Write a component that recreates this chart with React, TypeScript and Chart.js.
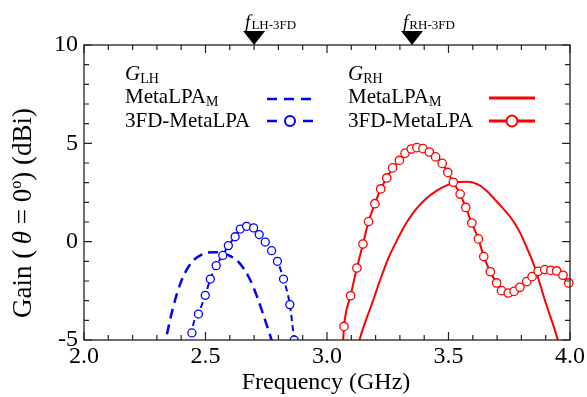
import React, { useEffect, useRef } from "react";
import { Chart, registerables } from "chart.js";
Chart.register(...registerables);

// ---- data ----
const xTickLabels = ["2.0", "2.5", "3.0", "3.5", "4.0"];
const yTickLabels = ["-5", "0", "5", "10"];

// G_LH, MetaLPA_M (blue dashed)
const lhMetaFreq = [2.327, 2.336, 2.366, 2.400, 2.441, 2.489, 2.537, 2.585, 2.639, 2.680, 2.714, 2.746, 2.772, 2.785];
const lhMetaGain = [-5.5, -5.0, -3.37, -2.02, -1.08, -0.63, -0.54, -0.63, -1.08, -1.85, -2.86, -4.02, -5.0, -5.5];

// G_LH, 3FD-MetaLPA (blue dashed with circles)
const lh3fdFreq = [2.440, 2.444, 2.471, 2.499, 2.520, 2.544, 2.571, 2.594, 2.622, 2.643, 2.669, 2.698, 2.721, 2.746, 2.772, 2.796, 2.821, 2.847, 2.865, 2.868];
const lh3fdGain = [-5.3, -4.64, -3.68, -2.73, -1.90, -1.22, -0.70, -0.20, 0.25, 0.64, 0.78, 0.70, 0.36, -0.02, -0.46, -1.00, -1.90, -3.20, -5.0, -5.3];

// G_RH, MetaLPA_M (red solid)
const rhMetaFreq = [3.128, 3.134, 3.160, 3.186, 3.220, 3.254, 3.290, 3.322, 3.360, 3.404, 3.450, 3.500, 3.541, 3.580, 3.623, 3.660, 3.691, 3.725, 3.759, 3.790, 3.814, 3.855, 3.896, 3.937, 3.955];
const rhMetaGain = [-5.4, -5.0, -4.0, -3.12, -1.90, -0.80, 0.12, 0.86, 1.55, 2.14, 2.58, 2.90, 3.03, 3.05, 2.90, 2.55, 2.14, 1.68, 1.18, 0.56, -0.07, -1.30, -2.95, -4.47, -5.2];

// G_RH, 3FD-MetaLPA (red solid with circles)
const rh3fdFreq = [3.065, 3.070, 3.097, 3.123, 3.148, 3.171, 3.197, 3.221, 3.246, 3.270, 3.298, 3.321, 3.347, 3.370, 3.395, 3.421, 3.447, 3.474, 3.497, 3.520, 3.548, 3.571, 3.596, 3.623, 3.645, 3.672, 3.698, 3.718, 3.746, 3.770, 3.794, 3.822, 3.844, 3.869, 3.896, 3.921, 3.945, 3.971, 3.995];
const rh3fdGain = [-5.3, -4.31, -2.75, -1.34, -0.12, 1.02, 1.93, 2.68, 3.24, 3.75, 4.13, 4.49, 4.71, 4.78, 4.73, 4.56, 4.31, 3.98, 3.52, 3.02, 2.42, 1.74, 0.95, 0.14, -0.76, -1.53, -2.10, -2.49, -2.61, -2.53, -2.32, -2.03, -1.78, -1.51, -1.42, -1.46, -1.49, -1.71, -2.10];

// frequency markers at the top
const markerFreqs = [2.7, 3.35];
const markerSubs = ["LH-3FD", "RH-3FD"];

const SERIF = "'Liberation Serif', 'Times New Roman', serif";
const BLUE = "#0000ff";
const RED = "#ff0000";

const pts = (xs: number[], ys: number[]) => xs.map((x, i) => ({ x, y: ys[i] }));

const overlay = {
  id: "overlay",
  afterDraw(chart: any) {
    const ctx: CanvasRenderingContext2D = chart.ctx;
    const a = chart.chartArea;
    const xs = chart.scales.x;
    const ys = chart.scales.y;
    ctx.save();
    // frame
    ctx.strokeStyle = "#222";
    ctx.lineWidth = 1.3;
    ctx.strokeRect(a.left, a.top, a.right - a.left, a.bottom - a.top);
    // ticks
    ctx.lineWidth = 1.2;
    ctx.beginPath();
    for (let i = 0; i <= 20; i++) {
      const v = 2 + i * 0.1;
      const px = xs.getPixelForValue(v);
      const len = i % 5 === 0 ? 8 : 5;
      ctx.moveTo(px, a.bottom);
      ctx.lineTo(px, a.bottom - len);
      ctx.moveTo(px, a.top);
      ctx.lineTo(px, a.top + len);
    }
    for (let i = 0; i <= 15; i++) {
      const v = -5 + i;
      const py = ys.getPixelForValue(v);
      const len = i % 5 === 0 ? 8 : 5;
      ctx.moveTo(a.left, py);
      ctx.lineTo(a.left + len, py);
      ctx.moveTo(a.right, py);
      ctx.lineTo(a.right - len, py);
    }
    ctx.stroke();

    // top markers
    ctx.fillStyle = "#000";
    markerFreqs.forEach((f, k) => {
      const px = xs.getPixelForValue(f);
      ctx.beginPath();
      ctx.moveTo(px - 11, a.top - 14);
      ctx.lineTo(px + 11, a.top - 14);
      ctx.lineTo(px, a.top);
      ctx.closePath();
      ctx.fill();
      ctx.textBaseline = "alphabetic";
      ctx.textAlign = "left";
      ctx.font = `italic 19px ${SERIF}`;
      const fx = px - 9;
      ctx.fillText("f", fx, 28);
      const fw = ctx.measureText("f").width;
      ctx.font = `13px ${SERIF}`;
      ctx.fillText(markerSubs[k], fx + fw + 1, 29);
    });

    // legend
    const drawG = (x: number, sub: string) => {
      ctx.font = `italic 21px ${SERIF}`;
      ctx.fillText("G", x, 80);
      const w = ctx.measureText("G").width;
      ctx.font = `14px ${SERIF}`;
      ctx.fillText(sub, x + w, 83);
    };
    const drawMeta = (x: number) => {
      ctx.font = `21px ${SERIF}`;
      ctx.fillText("MetaLPA", x, 103);
      const w = ctx.measureText("MetaLPA").width;
      ctx.font = `14px ${SERIF}`;
      ctx.fillText("M", x + w, 106);
      ctx.font = `21px ${SERIF}`;
      ctx.fillText("3FD-MetaLPA", x, 127);
    };
    ctx.fillStyle = "#000";
    drawG(125, "LH");
    drawMeta(125);
    drawG(348, "RH");
    drawMeta(348);

    // legend symbols
    ctx.lineWidth = 2.5;
    ctx.strokeStyle = BLUE;
    ctx.setLineDash([10, 7]);
    ctx.beginPath();
    ctx.moveTo(267, 99);
    ctx.lineTo(313, 99);
    ctx.stroke();
    ctx.setLineDash([]);
    ctx.beginPath();
    ctx.moveTo(267, 121);
    ctx.lineTo(277, 121);
    ctx.moveTo(303, 121);
    ctx.lineTo(313, 121);
    ctx.stroke();
    ctx.lineWidth = 2;
    ctx.fillStyle = "#fff";
    ctx.beginPath();
    ctx.arc(290, 121, 5, 0, Math.PI * 2);
    ctx.fill();
    ctx.stroke();

    ctx.strokeStyle = RED;
    ctx.lineWidth = 3;
    ctx.beginPath();
    ctx.moveTo(489, 98);
    ctx.lineTo(535, 98);
    ctx.moveTo(489, 121);
    ctx.lineTo(535, 121);
    ctx.stroke();
    ctx.lineWidth = 2;
    ctx.beginPath();
    ctx.arc(512, 121, 5.5, 0, Math.PI * 2);
    ctx.fill();
    ctx.stroke();

    // x title
    ctx.fillStyle = "#000";
    ctx.font = `24px ${SERIF}`;
    ctx.textAlign = "center";
    ctx.fillText("Frequency (GHz)", (a.left + a.right) / 2 - 1, 389);

    // y title
    ctx.save();
    ctx.translate(0, 213);
    ctx.rotate(-Math.PI / 2);
    ctx.textAlign = "left";
    const parts: [string, string, number][] = [
      ["Gain (\u2009", `27px ${SERIF}`, 0],
      ["θ", `italic 27px ${SERIF}`, 0],
      [" = 0", `27px ${SERIF}`, 0],
      ["o", `16px ${SERIF}`, -10],
      [") (dBi)", `27px ${SERIF}`, 0],
    ];
    let total = 0;
    parts.forEach(([t, f]) => {
      ctx.font = f;
      total += ctx.measureText(t).width;
    });
    let cx = -total / 2;
    parts.forEach(([t, f, dy]) => {
      ctx.font = f;
      ctx.fillText(t, cx, 31 + dy);
      cx += ctx.measureText(t).width;
    });
    ctx.restore();
    ctx.restore();
  },
};

export default function App() {
  const ref = useRef<HTMLCanvasElement | null>(null);
  useEffect(() => {
    document.body.style.margin = "0";
    if (!ref.current) return;
    const radii = (n: number, r: number) => Array.from({ length: n }, (_, i) => (i === 0 || i === n - 1 ? 0 : r));
    const radiiFirst = (n: number, r: number) => Array.from({ length: n }, (_, i) => (i === 0 ? 0 : r));
    const chart = new Chart(ref.current, {
      type: "scatter",
      data: {
        datasets: [
          {
            label: "LH MetaLPA_M",
            data: pts(lhMetaFreq, lhMetaGain),
            showLine: true,
            borderColor: BLUE,
            borderWidth: 2.5,
            borderDash: [10, 6],
            pointRadius: 0,
            cubicInterpolationMode: "monotone",
            order: 4,
          },
          {
            label: "LH 3FD",
            data: pts(lh3fdFreq, lh3fdGain),
            showLine: true,
            borderColor: BLUE,
            borderWidth: 2,
            borderDash: [6, 4],
            pointRadius: radii(lh3fdFreq.length, 4),
            pointBorderColor: BLUE,
            pointBackgroundColor: "#fff",
            pointBorderWidth: 1.3,
            cubicInterpolationMode: "monotone",
            order: 1,
          },
          {
            label: "RH MetaLPA_M",
            data: pts(rhMetaFreq, rhMetaGain),
            showLine: true,
            borderColor: RED,
            borderWidth: 2,
            pointRadius: 0,
            cubicInterpolationMode: "monotone",
            order: 3,
          },
          {
            label: "RH 3FD",
            data: pts(rh3fdFreq, rh3fdGain),
            showLine: true,
            borderColor: RED,
            borderWidth: 2,
            pointRadius: radiiFirst(rh3fdFreq.length, 4.2),
            pointBorderColor: RED,
            pointBackgroundColor: "#fff",
            pointBorderWidth: 1.3,
            cubicInterpolationMode: "monotone",
            order: 2,
            clip: { left: 0, top: 0, right: 8, bottom: 0 } as any,
          },
        ],
      },
      options: {
        responsive: false,
        animation: false,
        events: [],
        layout: { padding: { top: 45, right: 14, left: 0, bottom: 0 } },
        plugins: { legend: { display: false }, tooltip: { enabled: false } },
        scales: {
          x: {
            type: "linear",
            min: 2,
            max: 4,
            grid: { display: false, drawTicks: false },
            border: { display: false },
            ticks: {
              stepSize: 0.5,
              padding: 2,
              color: "#000",
              font: { family: SERIF, size: 24 },
              maxRotation: 0,
              callback: (v: any) => {
                const i = Math.round((Number(v) - 2) / 0.5);
                return Math.abs(Number(v) - (2 + i * 0.5)) < 1e-6 ? xTickLabels[i] : "";
              },
            },
            afterFit: (s: any) => {
              s.height = 57;
            },
          },
          y: {
            min: -5,
            max: 10,
            grid: { display: false, drawTicks: false },
            border: { display: false },
            ticks: {
              stepSize: 5,
              padding: 6,
              color: "#000",
              font: { family: SERIF, size: 24 },
              callback: (v: any) => {
                const i = Math.round((Number(v) + 5) / 5);
                return yTickLabels[i] ?? "";
              },
            },
            afterFit: (s: any) => {
              s.width = 84;
            },
          },
        },
      },
      plugins: [overlay],
    });
    return () => chart.destroy();
  }, []);
  return (
    <div style={{ width: 587, height: 397 }}>
      <canvas ref={ref} width={587} height={397} style={{ display: "block" }} />
    </div>
  );
}
